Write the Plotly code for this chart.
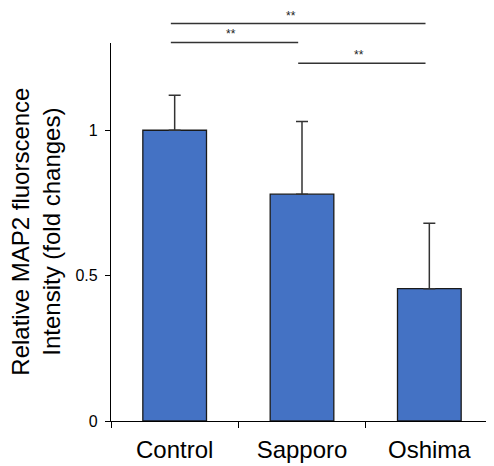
import plotly.graph_objects as go

categories = ["Control", "Sapporo", "Oshima"]
means = [1.00, 0.78, 0.455]
errors_up = [0.12, 0.25, 0.225]
y_ticks = [0, 0.5, 1]
y_tick_labels = ["0", "0.5", "1"]

sig_pairs = [(0, 2), (0, 1), (1, 2)]
sig_levels = [1.367, 1.302, 1.23]
sig_labels = ["**", "**", "**"]
sig_label_x = [0.91, 0.44, 1.45]

Y_MAX = 1.3
FONT = "Arial, Liberation Sans, sans-serif"

fig = go.Figure()
fig.add_trace(go.Bar(
    x=categories, y=means, width=0.5,
    marker=dict(color="#4472C4", line=dict(color="#1a1a1a", width=1.3)),
    error_y=dict(type="data", symmetric=False, array=errors_up,
                 arrayminus=[0] * len(errors_up),
                 color="#333333", thickness=1.5, width=6),
))

shapes = []
annotations = []
for (i, j), lvl, lab, lx in zip(sig_pairs, sig_levels, sig_labels, sig_label_x):
    yp = lvl / Y_MAX
    shapes.append(dict(type="line", xref="x", yref="paper",
                       x0=i - 0.03, x1=j - 0.03, y0=yp, y1=yp,
                       line=dict(color="#333333", width=1.5)))
    annotations.append(dict(xref="x", yref="paper", x=lx, y=yp, text=lab,
                            showarrow=False, xanchor="center", yanchor="bottom",
                            yshift=-1, font=dict(size=12, color="#222", family=FONT)))

annotations.append(dict(xref="paper", yref="paper", x=-0.205, y=0.5, xshift=3,
                        text="Relative MAP2 fluorscence<br>Intensity (fold changes)",
                        textangle=-90, showarrow=False, xanchor="center",
                        yanchor="middle", font=dict(size=24, color="black", family=FONT)))

# page body has an 8px default margin, so the figure is sized to fit inside it
fig.update_layout(
    width=486, height=458,
    margin=dict(l=103, r=1, t=35, b=45, autoexpand=False),
    plot_bgcolor="white", paper_bgcolor="white",
    showlegend=False,
    font=dict(family=FONT, color="black"),
    shapes=shapes, annotations=annotations,
    xaxis=dict(range=[-0.5, 2.5], showline=True, linecolor="black", linewidth=1.3,
               ticks="outside", tickson="boundaries", ticklen=6, tickcolor="black",
               tickwidth=1.3, tickfont=dict(size=24, color="black"), showgrid=False,
               zeroline=False, ticklabelstandoff=7, automargin=False),
    yaxis=dict(range=[0, Y_MAX], showline=True, linecolor="black", linewidth=1.3,
               ticks="outside", ticklen=5, tickcolor="black", tickwidth=1.3,
               tickvals=y_ticks, ticktext=y_tick_labels,
               tickfont=dict(size=16, color="black"), showgrid=False, zeroline=False,
               ticklabelstandoff=4, automargin=False),
)

fig.write_html("out.html")
